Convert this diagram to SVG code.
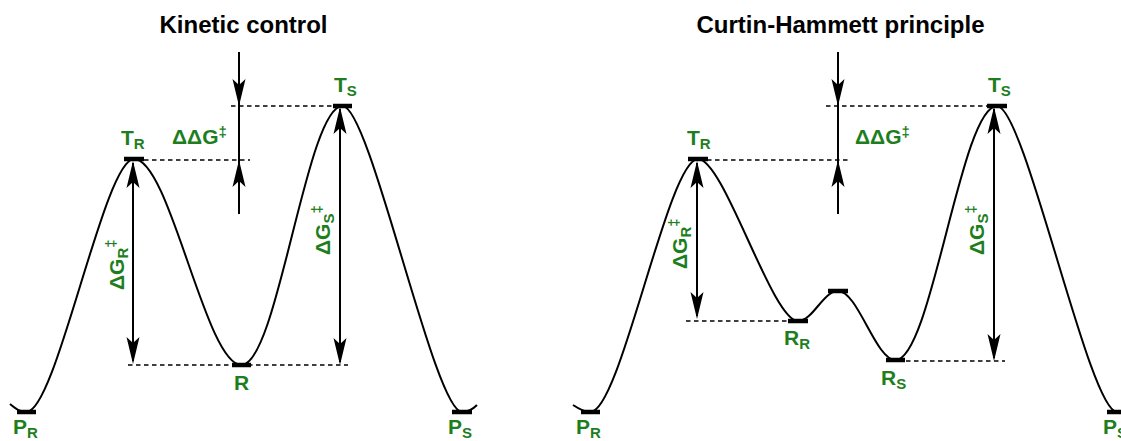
<svg xmlns="http://www.w3.org/2000/svg" xmlns:xlink="http://www.w3.org/1999/xlink" width="1121" height="441" viewBox="0 0 1121 441">
<style>
.curve{fill:none;stroke:#000;stroke-width:2}
.bar{stroke:#000;stroke-width:4.5;fill:none}
.dash{stroke:#000;stroke-width:1.6;stroke-dasharray:4.5 3.5;fill:none}
.arr{stroke:#000;stroke-width:2;fill:none}
.ah{fill:#000}
.title{font-family:"Liberation Sans",Arial,sans-serif;font-weight:bold;font-size:24px;fill:#000;text-anchor:middle}
.lbl{font-family:"Liberation Sans",Arial,sans-serif;font-weight:bold;font-size:21px;fill:#1e7e1e}
.sm{font-size:15px}
</style>
<defs>
<path id="ah" d="M0,0 L-6.5,-27 L0,-21 L6.5,-27 Z"/>
</defs>
<rect width="1121" height="441" fill="#fff"/>

<text class="title" x="243.5" y="33">Kinetic control</text>
<text class="title" x="840.5" y="33">Curtin-Hammett principle</text>

<g id="curves">
<path class="curve" d="M10,404 C16,409 20,412 26.5,412 C56.5,412 104,159 134,159 C170,159 205.5,365 241.5,365 C277.5,365 306.5,106 342.5,106 C370.5,106 434,412 462,412 C468,412 473,409 477,405"/>
<path class="curve" d="M573,405 C579,409 584,412 590.5,412 C620.5,412 668,159 698,159 C724,159 772,321 798,321 C813,321 823,291 838,291 C858,291 875.5,360 895.5,360 C931.5,360 961,106 997,106 C1025,106 1089,412 1117,412 C1123,412 1128,409 1132,405"/>
</g>

<g id="connectors">
<line class="dash" x1="144" y1="160" x2="250" y2="160"/>
<line class="dash" x1="231" y1="106" x2="333" y2="106"/>
<line class="dash" x1="128" y1="365" x2="348" y2="365"/>
<line class="dash" x1="707" y1="160" x2="848" y2="160"/>
<line class="dash" x1="826" y1="106" x2="987" y2="106"/>
<line class="dash" x1="686" y1="321" x2="788" y2="321"/>
<line class="dash" x1="906" y1="361" x2="1005" y2="361"/>

<line class="arr" x1="239" y1="52" x2="239" y2="214"/>
<use href="#ah" class="ah" transform="translate(239,106)"/>
<use href="#ah" class="ah" transform="translate(239,160) rotate(180)"/>
<line class="arr" x1="838" y1="52" x2="838" y2="214"/>
<use href="#ah" class="ah" transform="translate(838,106)"/>
<use href="#ah" class="ah" transform="translate(838,160) rotate(180)"/>

<line class="arr" x1="133" y1="163" x2="133" y2="361"/>
<use href="#ah" class="ah" transform="translate(133,161) rotate(180)"/>
<use href="#ah" class="ah" transform="translate(133,364)"/>
<line class="arr" x1="340" y1="109" x2="340" y2="362"/>
<use href="#ah" class="ah" transform="translate(340,107) rotate(180)"/>
<use href="#ah" class="ah" transform="translate(340,365)"/>
<line class="arr" x1="697" y1="163" x2="697" y2="316"/>
<use href="#ah" class="ah" transform="translate(697,161) rotate(180)"/>
<use href="#ah" class="ah" transform="translate(697,319)"/>
<line class="arr" x1="994" y1="109" x2="994" y2="358"/>
<use href="#ah" class="ah" transform="translate(994,107) rotate(180)"/>
<use href="#ah" class="ah" transform="translate(994,361)"/>
</g>

<g id="left-PR"><line class="bar" x1="17" y1="412" x2="36" y2="412"/><text class="lbl" x="13" y="434">P<tspan class="sm" dy="4">R</tspan></text></g>
<g id="left-TR"><line class="bar" x1="124" y1="159" x2="144" y2="159"/><text class="lbl" x="121" y="145">T<tspan class="sm" dy="4">R</tspan></text></g>
<g id="left-R"><line class="bar" x1="232" y1="365" x2="251" y2="365"/><text class="lbl" x="234" y="390">R</text></g>
<g id="left-TS"><line class="bar" x1="333" y1="106" x2="352" y2="106"/><text class="lbl" x="334" y="92">T<tspan class="sm" dy="4">S</tspan></text></g>
<g id="left-PS"><line class="bar" x1="452" y1="412" x2="472" y2="412"/><text class="lbl" x="448" y="434">P<tspan class="sm" dy="4">S</tspan></text></g>
<g id="left-ddG"><text class="lbl" x="172" y="144">ΔΔG<tspan class="sm" dy="-7">‡</tspan></text></g>
<g id="left-dGR"><text class="lbl" transform="translate(124,290) rotate(-90)">ΔG<tspan class="sm" dy="4">R</tspan><tspan class="sm" dy="-12">‡</tspan></text></g>
<g id="left-dGS"><text class="lbl" transform="translate(330,255) rotate(-90)">ΔG<tspan class="sm" dy="4">S</tspan><tspan class="sm" dy="-12">‡</tspan></text></g>

<g id="right-PR"><line class="bar" x1="581" y1="412" x2="600" y2="412"/><text class="lbl" x="576" y="434">P<tspan class="sm" dy="4">R</tspan></text></g>
<g id="right-TR"><line class="bar" x1="688" y1="159" x2="708" y2="159"/><text class="lbl" x="687" y="145">T<tspan class="sm" dy="4">R</tspan></text></g>
<g id="right-RR"><line class="bar" x1="788" y1="321" x2="808" y2="321"/><text class="lbl" x="784" y="345">R<tspan class="sm" dy="4">R</tspan></text></g>
<g id="right-hump"><line class="bar" x1="828" y1="291" x2="848" y2="291"/></g>
<g id="right-RS"><line class="bar" x1="886" y1="360" x2="905" y2="360"/><text class="lbl" x="881" y="385">R<tspan class="sm" dy="4">S</tspan></text></g>
<g id="right-TS"><line class="bar" x1="987" y1="106" x2="1007" y2="106"/><text class="lbl" x="988" y="92">T<tspan class="sm" dy="4">S</tspan></text></g>
<g id="right-PS"><line class="bar" x1="1107" y1="412" x2="1127" y2="412"/><text class="lbl" x="1103" y="434">P<tspan class="sm" dy="4">S</tspan></text></g>
<g id="right-ddG"><text class="lbl" x="855" y="144">ΔΔG<tspan class="sm" dy="-7">‡</tspan></text></g>
<g id="right-dGR"><text class="lbl" transform="translate(687,269) rotate(-90)">ΔG<tspan class="sm" dy="4">R</tspan><tspan class="sm" dy="-12">‡</tspan></text></g>
<g id="right-dGS"><text class="lbl" transform="translate(984,255) rotate(-90)">ΔG<tspan class="sm" dy="4">S</tspan><tspan class="sm" dy="-12">‡</tspan></text></g>
</svg>
